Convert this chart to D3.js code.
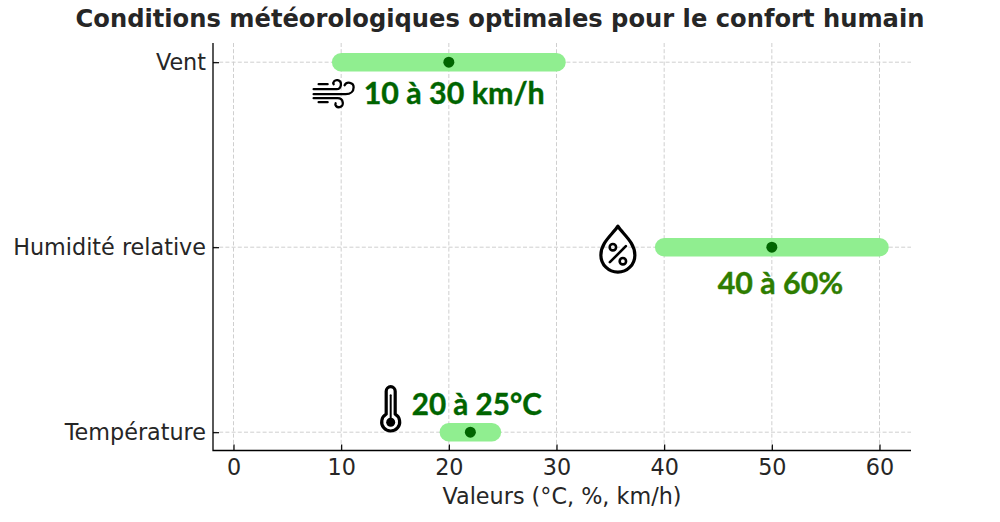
<!DOCTYPE html>
<html><head><meta charset="utf-8">
<script src="https://cdn.jsdelivr.net/npm/d3@7"></script>
<style>html,body{margin:0;background:#fff}svg{display:block}</style></head>
<body><svg id="c" width="1000" height="522"></svg>
<script>
const categories = ["Température", "Humidité relative", "Vent"];
const lows = [20, 40, 10];
const highs = [24, 60, 30];
const optimals = [22, 50, 20];
const rangeLabels = ["20 à 25°C", "40 à 60%", "10 à 30 km/h"];
const labelColors = ["#006400", "#2e7d00", "#006400"];
const xTicks = [0, 10, 20, 30, 40, 50, 60];
const labelAnchors = [[22.6, -29], [50.8, 34.5], [20.5, 29.5]];
const iconAnchors = [[14.6, -25], [35.7, 1], [9.3, 31]];

const svg = d3.select("#c");
const L = 213, R = 911, T = 43, B = 450.5;
const x = d3.scaleLinear().domain([0, 60]).range([233.5, 879.5]);
const y = d3.scalePoint().domain(categories).range([432.2, 62.2]);
const sans = "'DejaVu Sans'";
const ink = "#262626";

// grid
const dash = "4,2.2";
svg.append("g").selectAll("line").data(xTicks).join("line")
  .attr("x1", d => x(d)).attr("x2", d => x(d)).attr("y1", T).attr("y2", B)
  .attr("stroke", "#cfcfcf").attr("stroke-width", 1).attr("stroke-dasharray", dash);
svg.append("g").selectAll("line").data(categories).join("line")
  .attr("x1", L).attr("x2", R).attr("y1", d => y(d)).attr("y2", d => y(d))
  .attr("stroke", "#cfcfcf").attr("stroke-width", 1).attr("stroke-dasharray", dash);

// axes
const ax = svg.append("g").attr("transform", `translate(0,${B})`)
  .call(d3.axisBottom(x).tickValues(xTicks).tickSize(-6).tickPadding(9).tickFormat(d3.format("d")));
const ay = svg.append("g").attr("transform", `translate(${L},0)`)
  .call(d3.axisLeft(y).tickSize(-6).tickPadding(7));
[ax, ay].forEach(g => {
  g.selectAll(".domain").remove();
  g.selectAll("line").attr("stroke", "#000").attr("stroke-width", 1.2);
  g.selectAll("text").attr("font-family", sans).attr("font-size", 22.3).attr("fill", ink);
});
svg.append("path").attr("d", `M${L},${T}V${B}H${R}`).attr("fill", "none").attr("stroke", "#000").attr("stroke-width", 1.3);

// bars
const line = d3.line();
categories.forEach((c, i) => {
  svg.append("path").attr("d", line([[x(lows[i]), y(c)], [x(highs[i]), y(c)]]))
    .attr("stroke", "#90ee90").attr("stroke-width", 18.5).attr("stroke-linecap", "round").attr("fill", "none");
  svg.append("circle").attr("cx", x(optimals[i])).attr("cy", y(c)).attr("r", 5.5).attr("fill", "#006400");
  svg.append("text").attr("x", x(labelAnchors[i][0])).attr("y", y(c) + labelAnchors[i][1])
    .attr("text-anchor", "middle").attr("dominant-baseline", "central")
    .attr("font-family", "Lato").attr("font-weight", 700).attr("font-size", i === 0 ? 29.6 : 30.4)
    .attr("stroke", labelColors[i]).attr("stroke-width", 0.4)
    .attr("fill", labelColors[i]).text(rangeLabels[i]);
});

// icons
function icon(i) {
  return svg.append("g").attr("transform", `translate(${x(iconAnchors[i][0])},${y(categories[i]) + iconAnchors[i][1]})`)
    .attr("fill", "none").attr("stroke", "#000").attr("stroke-linecap", "round").attr("stroke-linejoin", "round");
}
// thermometer
const th = icon(0).attr("stroke-width", 3.2);
th.append("path").attr("d", "M-4.5,7 V-16 A4.5,4.5 0 0 1 4.5,-16 V7 A9,9 0 1 1 -4.5,7 Z");
th.append("circle").attr("cx", 0).attr("cy", 15).attr("r", 4.5).attr("fill", "#000").attr("stroke", "none");
th.append("path").attr("d", "M0,15 V-12").attr("stroke-width", 2);
// drop
const dr = icon(1).attr("stroke-width", 3.2);
dr.append("path").attr("d", "M0,-22 C5,-14 17,-6 17,7 A17,17 0 0 1 -17,7 C-17,-6 -5,-14 0,-22 Z");
dr.append("circle").attr("cx", -5).attr("cy", -1).attr("r", 3.2).attr("stroke-width", 2.6);
dr.append("circle").attr("cx", 5).attr("cy", 13).attr("r", 3.2).attr("stroke-width", 2.6);
dr.append("path").attr("d", "M-8,14 L8,-2").attr("stroke-width", 2.6);
// wind
const wi = icon(2).attr("stroke-width", 2.3);
wi.append("path").attr("d", "M-20,-4 H3 C8,-4 9,-12 4,-13 C1,-13.500 -1,-11 0,-9");
wi.append("path").attr("d", "M-15,-9 H-6");
wi.append("path").attr("d", "M-20,1 H12 C17,1 20,-2 20,-6 C20,-11 13,-12 11,-8");
wi.append("path").attr("d", "M-20,5 H4 C10,5 11,13 6,14 C3,14.500 1,12 2,10");
wi.append("path").attr("d", "M-15,9 H-6");

// titles
svg.append("text").attr("x", 500).attr("y", 27).attr("text-anchor", "middle")
  .attr("font-family", sans).attr("font-weight", 700).attr("font-size", 24.2).attr("fill", ink)
  .text("Conditions météorologiques optimales pour le confort humain");
svg.append("text").attr("x", 562).attr("y", 504).attr("text-anchor", "middle")
  .attr("font-family", sans).attr("font-size", 22.3).attr("fill", ink)
  .text("Valeurs (°C, %, km/h)");
</script></body></html>
